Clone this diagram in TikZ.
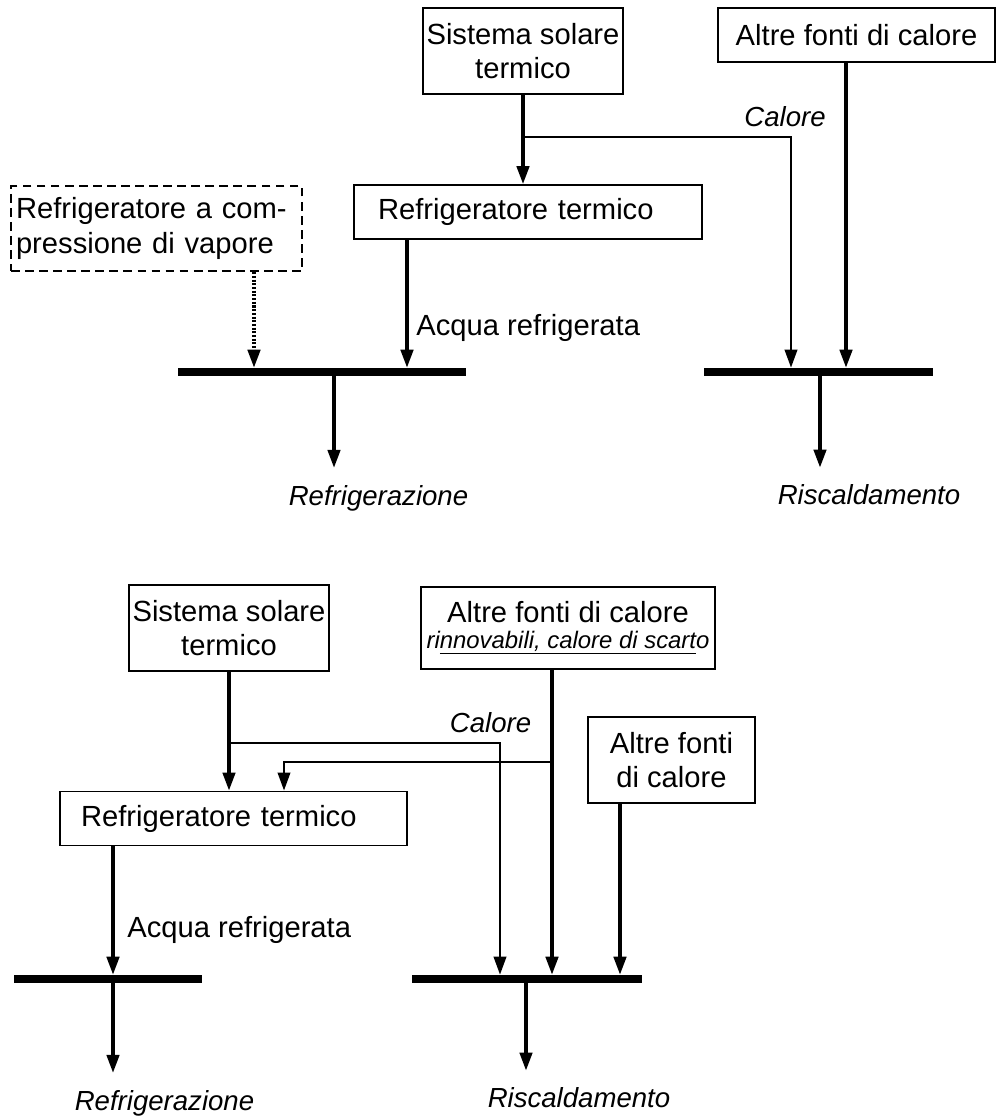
\documentclass[tikz,border=0pt]{standalone}
\usepackage{fontspec}
\setmainfont{Liberation Sans}
\usetikzlibrary{arrows.meta}

\begin{document}
\begin{tikzpicture}[
            x = 0.02cm, y = -0.02cm, % pixel grid, y pointing down
            > = {Triangle[length=0.36cm,width=0.25cm]}, % arrow head style
            font = \fontsize{16.6}{19.8}\selectfont,
            box/.style = {draw, line width=1.1pt, align=center, inner xsep=2pt},
            chiller/.style = {box, align=left, minimum height=1.08cm},
            bus/.style = {fill, inner sep=0pt, minimum height=0.16cm, minimum width=#1},
            flow/.style = {->, line width=1.8pt},
            branch/.style = {->, line width=1.3pt},
            outflow/.style = {flow, shorten > = 0.34cm},
            lbl/.style = {inner sep=0pt, font=\fontsize{15.7}{18}\selectfont\itshape}
        ]
\useasboundingbox (0,0) rectangle (997,1119);

% upper scheme
\node[box, minimum width=4cm, minimum height=1.72cm] (sst1) at (523,51) {Sistema solare\\termico};
\node[box, minimum width=5.54cm, minimum height=1.08cm] (aft1) at (856.5,35) {Altre fonti di calore};
\node[chiller, text width=6cm, inner xsep=0.48cm] (rt1) at (528,212) {Refrigeratore termico};
\node[box, line width=1.4pt, dash pattern=on 5pt off 3pt, align=left, text width=5.62cm, inner xsep=0.1cm,
      minimum height=1.7cm] (vcr) at (156.5,228.5) {Refrigeratore a com-\\pressione di vapore};
\node[bus=5.76cm] (cbus1) at (322,372) {};
\node[bus=4.58cm] (hbus1) at (818.5,372) {};
\node[lbl] (heat1) at (785,117) {Calore};
\node[inner sep=0pt, anchor=west] (water1) at (416,328) {Acqua refrigerata};
\node[lbl] (cool1) at (378.5,498) {Refrigerazione};
\node[lbl] (warm1) at (869,495) {Riscaldamento};
\coordinate (tap1) at (523,137);

\draw[flow] (sst1.south) -- (sst1.south |- rt1.north);
\draw[branch] (tap1) -| (791,0 |- hbus1.north);
\draw[flow] (846,0 |- aft1.south) -- (846,0 |- hbus1.north);
\draw[flow] (407,0 |- rt1.south) -- (407,0 |- cbus1.north);
\draw[->, line width=1.8pt, dash pattern=on 1.2pt off 0.9pt] (254,0 |- vcr.south) -- (254,0 |- cbus1.north);
\draw[outflow] (334,0 |- cbus1.south) -- (334,0 |- cool1.north);
\draw[outflow] (820,0 |- hbus1.south) -- (820,0 |- warm1.north);

% lower scheme
\node[box, minimum width=4cm, minimum height=1.72cm] (sst2) at (229,628) {Sistema solare\\termico};
\node[box, minimum width=5.88cm, minimum height=1.64cm] (aft2) at (568,628)
     {Altre fonti di calore\\[-5pt]{\fontsize{13.6}{16}\selectfont\itshape ri\underline{nnovabili, calore di scart}o}};
\node[box, minimum width=3.34cm, minimum height=1.72cm] (aft3) at (671.5,760) {Altre fonti\\di calore};
\node[chiller, text width=6.1cm, inner xsep=0.42cm] (rt2) at (233.5,818.5) {Refrigeratore termico};
\node[bus=3.76cm] (cbus2) at (108,979) {};
\node[bus=4.6cm] (hbus2) at (527,979) {};
\node[lbl] (heat2) at (490.5,723) {Calore};
\node[inner sep=0pt, anchor=west] (water2) at (127,930) {Acqua refrigerata};
\node[lbl] (cool2) at (164.5,1103) {Refrigerazione};
\node[lbl] (warm2) at (579,1098) {Riscaldamento};
\coordinate (tap2) at (229,743);
\coordinate (tap3) at (552,762);

\draw[flow] (sst2.south) -- (sst2.south |- rt2.north);
\draw[branch] (tap2) -| (500,0 |- hbus2.north);
\draw[branch] (tap3) -| (284,0 |- rt2.north);
\draw[flow] (552,0 |- aft2.south) -- (552,0 |- hbus2.north);
\draw[flow] (620,0 |- aft3.south) -- (620,0 |- hbus2.north);
\draw[flow] (113,0 |- rt2.south) -- (113,0 |- cbus2.north);
\draw[outflow] (113,0 |- cbus2.south) -- (113,0 |- cool2.north);
\draw[outflow] (526,0 |- hbus2.south) -- (526,0 |- warm2.north);

\end{tikzpicture}
\end{document}
